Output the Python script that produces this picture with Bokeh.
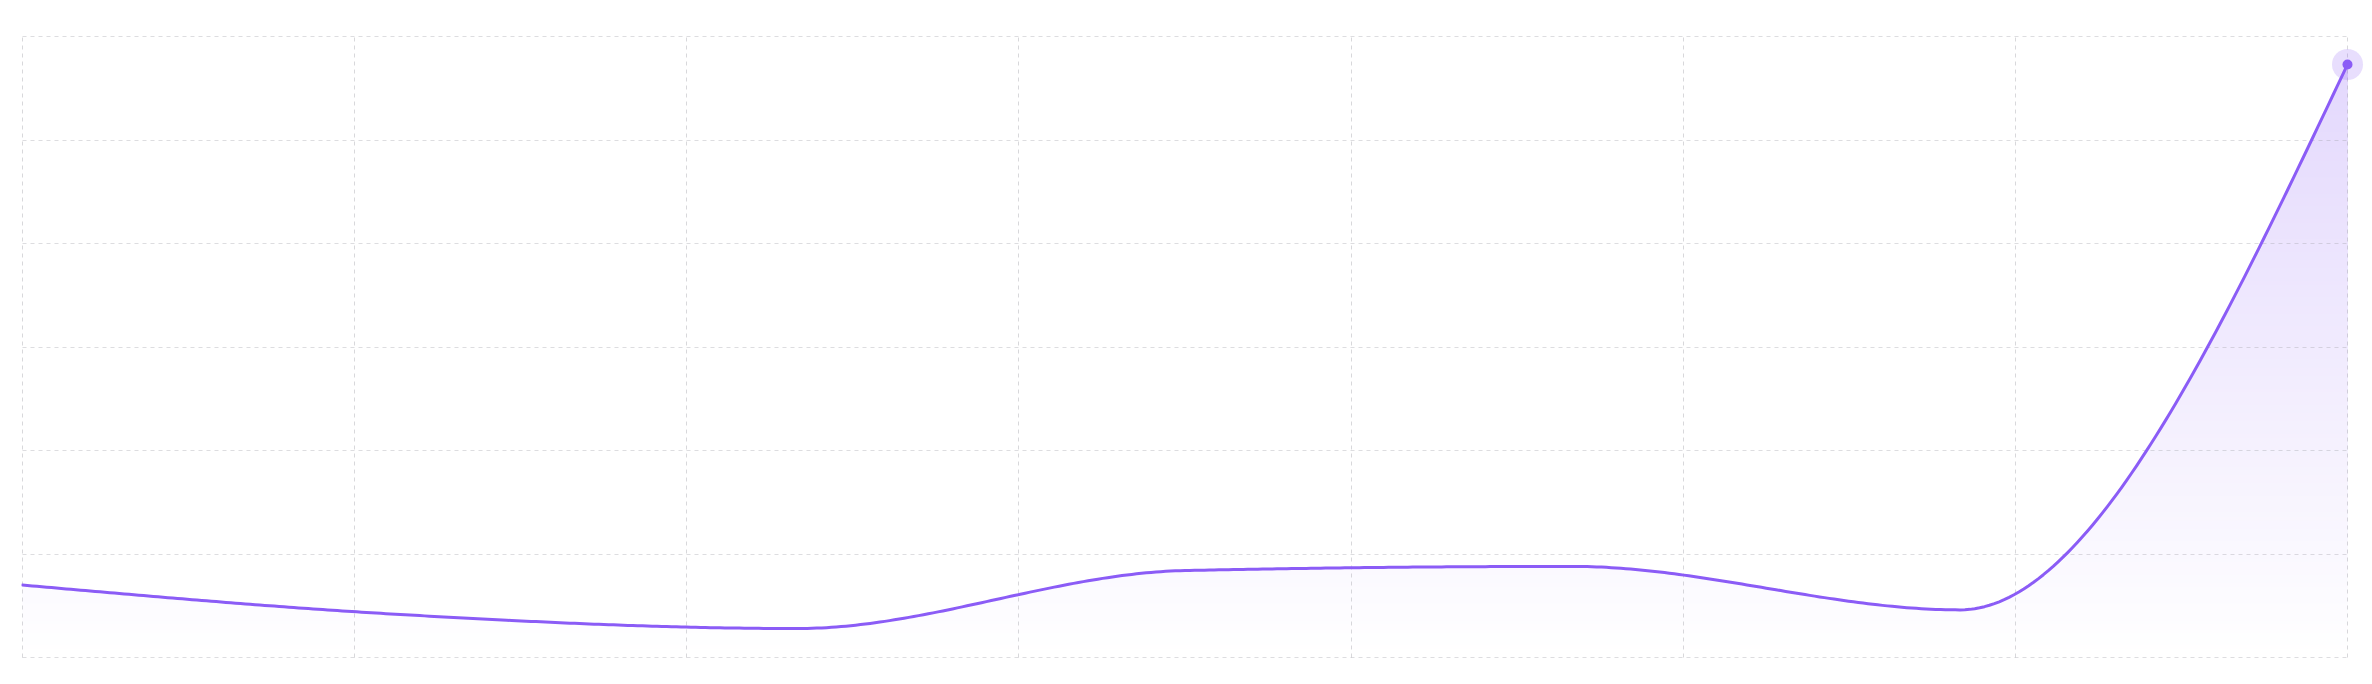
import numpy as np
from bokeh.plotting import figure
from bokeh.models import Range1d, Grid, FixedTicker, ColumnDataSource
from bokeh.embed import file_html
from bokeh.resources import INLINE

# ---- data ----
point_index = [0, 1, 2, 3, 4, 5, 6]
series_values = [70, 41, 28, 84, 88, 46, 573]
y_grid_ticks = [0, 100, 200, 300, 400, 500, 600]
x_grid_count = 8  # vertical grid lines spanning the x domain

LINE_COLOR = "#8b5cf6"
BASE_RGB = (139, 92, 246)


def _sign(v):
    v = float(v)
    return 1.0 if v > 0 else (-1.0 if v < 0 else 0.0)


def monotone_x(xs, ys, per_seg=80):
    xs = np.asarray(xs, float)
    ys = np.asarray(ys, float)
    n = len(xs)
    h = np.diff(xs)
    s = np.diff(ys) / h
    t = np.zeros(n)
    for i in range(1, n - 1):
        p = (s[i - 1] * h[i] + s[i] * h[i - 1]) / (h[i - 1] + h[i])
        t[i] = (_sign(s[i - 1]) + _sign(s[i])) * min(abs(s[i - 1]), abs(s[i]), 0.5 * abs(p))
    t[0] = (3 * s[0] - t[1]) / 2
    t[-1] = (3 * s[-1] - t[-2]) / 2
    out_x, out_y = [], []
    for i in range(n - 1):
        u = np.linspace(0, 1, per_seg, endpoint=(i == n - 2))
        dx = h[i]
        h00 = 2 * u**3 - 3 * u**2 + 1
        h10 = u**3 - 2 * u**2 + u
        h01 = -2 * u**3 + 3 * u**2
        h11 = u**3 - u**2
        out_x.append(xs[i] + dx * u)
        out_y.append(h00 * ys[i] + h10 * dx * t[i] + h01 * ys[i + 1] + h11 * dx * t[i + 1])
    return np.concatenate(out_x), np.concatenate(out_y)


cx, cy = monotone_x(point_index, series_values)

x_min, x_max = point_index[0], point_index[-1]
y_min, y_max = y_grid_ticks[0], y_grid_ticks[-1]

# layout in pixels
DATA_W, DATA_H = 2325, 621          # pixel span of the data domain
PAD_L, PAD_R, PAD_T, PAD_B = 1, 20, 1, 1
x_ppu = DATA_W / (x_max - x_min)
y_ppu = DATA_H / (y_max - y_min)
frame_w = DATA_W + PAD_L + PAD_R
frame_h = DATA_H + PAD_T + PAD_B
BL, BR, BT, BB = 21, 3, 35, 20

p = figure(
    width=BL + frame_w + BR, height=BT + frame_h + BB,
    x_range=Range1d(x_min - PAD_L / x_ppu, x_max + PAD_R / x_ppu),
    y_range=Range1d(y_min - PAD_B / y_ppu, y_max + PAD_T / y_ppu),
    x_axis_type=None, y_axis_type=None,
    output_backend="svg", toolbar_location=None,
    min_border_left=BL, min_border_right=BR, min_border_top=BT, min_border_bottom=BB,
)
p.outline_line_color = None
p.background_fill_color = "white"
p.border_fill_color = "white"

# gradient fill under the curve: opaque stacked bands, drawn bottom -> top
n_bands = 150
edges = np.linspace(y_min, y_max, n_bands + 1)
for k in range(n_bands):
    a = edges[k]
    if a >= cy.max():
        break
    mid = (edges[k] + edges[k + 1]) / 2
    alpha = 0.25 * (mid - y_min) / (y_max - y_min)
    r, g, b = [int(round(255 - alpha * (255 - c))) for c in BASE_RGB]
    color = "#%02x%02x%02x" % (r, g, b)
    src = ColumnDataSource(dict(x=cx, y1=np.minimum(cy, a), y2=cy))
    p.varea(x="x", y1="y1", y2="y2", source=src, fill_color=color, fill_alpha=1.0, level="image")

# grid lines
xticks = [x_min + (x_max - x_min) * i / (x_grid_count - 1) for i in range(x_grid_count)]
vgrid = Grid(dimension=0, ticker=FixedTicker(ticks=xticks), cross_bounds=(y_min, y_max),
             grid_line_color="#a1a1aa", grid_line_alpha=0.42, grid_line_dash="4 4", grid_line_width=1)
hgrid = Grid(dimension=1, ticker=FixedTicker(ticks=y_grid_ticks), cross_bounds=(x_min, x_max),
             grid_line_color="#a1a1aa", grid_line_alpha=0.36, grid_line_dash="4 4", grid_line_width=1)
p.add_layout(vgrid, "center")
p.add_layout(hgrid, "center")

# curve
p.line(cx, cy, line_color=LINE_COLOR, line_width=3, line_join="round", line_cap="round")

# highlighted last point
p.scatter([point_index[-1]], [series_values[-1]], size=31, fill_color=LINE_COLOR, fill_alpha=0.2, line_color=None)
p.scatter([point_index[-1]], [series_values[-1]], size=10, fill_color=LINE_COLOR, line_color=None)

open("out.html", "w").write(file_html(p, INLINE))
